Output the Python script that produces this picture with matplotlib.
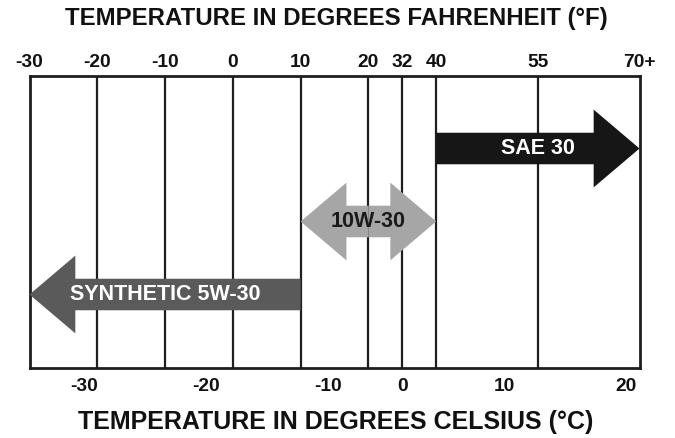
import numpy as np
import matplotlib
matplotlib.use("Agg")
import matplotlib.pyplot as plt
from matplotlib.patches import FancyArrowPatch, ArrowStyle

# ---- data ----
fahrenheit_ticks = [-30, -20, -10, 0, 10, 20, 32, 40, 55, 70]
fahrenheit_labels = ["-30", "-20", "-10", "0", "10", "20", "32", "40", "55", "70+"]
celsius_ticks = [-30, -20, -10, 0, 10, 20]
oils = ["SAE 30", "10W-30", "SYNTHETIC 5W-30"]
oil_low_f = [40, 10, -30]
oil_high_f = [70, 40, 10]
oil_direction = ["right", "both", "left"]

# ---- layout / style ----
scale_steps = [0, 1, 2, 3, 4, 5, 5.5, 6, 7.5, 9]  # non-uniform spacing of the printed scale
oil_rows = [0.75, 0.5, 0.25]
oil_colors = ["#161616", "#a6a6a6", "#5a5a5a"]
oil_text_colors = ["white", "#1a1a1a", "white"]

plt.rcParams['font.family'] = ['Liberation Sans', 'DejaVu Sans']


def fwd(x):
    return np.interp(x, fahrenheit_ticks, scale_steps)


def inv(p):
    return np.interp(p, scale_steps, fahrenheit_ticks)


fig = plt.figure(figsize=(6.75, 4.38), dpi=100)
W, H = 675, 438
left, right, top, bottom = 29.5, 639.5, 75.5, 367.5
ax = fig.add_axes([left / W, 1 - bottom / H, (right - left) / W, (bottom - top) / H])
ax.set_xscale('function', functions=(fwd, inv))
ax.set_xlim(fahrenheit_ticks[0], fahrenheit_ticks[-1])
ax.set_ylim(0, 1)
ax.set_yticks([])

ax2 = ax.twiny()
ax2.set_xscale('function', functions=(fwd, inv))
ax2.set_xlim(ax.get_xlim())

for s in ax.spines.values():
    s.set_linewidth(2.0)
    s.set_color("#1e1e1e")
for s in ax2.spines.values():
    s.set_visible(False)

ax.vlines(fahrenheit_ticks[1:-1], 0, 1, colors="#1e1e1e", linewidth=1.6, zorder=1)

# Fahrenheit scale on top
ax2.xaxis.set_ticks_position('top')
ax2.set_xticks(fahrenheit_ticks)
ax2.set_xticklabels(fahrenheit_labels, fontsize=13.8, fontweight='bold', color="#111111")
ax2.tick_params(axis='x', length=0, pad=3.5)

# Celsius scale on bottom
ax.xaxis.set_ticks_position('bottom')
ax.set_xticks([c * 9 / 5 + 32 for c in celsius_ticks])
ax.set_xticklabels([str(c) for c in celsius_ticks], fontsize=13.8, fontweight='bold', color="#111111")
ax.tick_params(axis='x', length=0, pad=7.5)
ax.minorticks_off()
ax2.minorticks_off()

style = ArrowStyle.Simple(head_length=33, head_width=56, tail_width=22.7)
for name, lo, hi, d, y, c, tc in zip(oils, oil_low_f, oil_high_f, oil_direction,
                                      oil_rows, oil_colors, oil_text_colors):
    mid = float(inv((fwd(lo) + fwd(hi)) / 2))
    if d == "right":
        segs = [(lo, hi)]
    elif d == "left":
        segs = [(hi, lo)]
    else:
        segs = [(mid, lo), (mid, hi)]
    for a, b in segs:
        p = FancyArrowPatch((a, y), (b, y), arrowstyle=style, mutation_scale=1,
                            shrinkA=0, shrinkB=0, color=c, linewidth=0, zorder=3)
        ax.add_patch(p)
    ax.text(mid, y, name, ha='center', va='center', fontsize=15.5, fontweight='bold',
            color=tc, zorder=4)

fig.text(336 / W, 1 - 18 / H, "TEMPERATURE IN DEGREES FAHRENHEIT (°F)", ha='center', va='center',
         fontsize=17.3, fontweight='bold', color="#111111")
fig.text(336 / W, 1 - 422 / H, "TEMPERATURE IN DEGREES CELSIUS (°C)", ha='center', va='center',
         fontsize=18, fontweight='bold', color="#111111")

fig.savefig("out.png", dpi=100, facecolor="white")
